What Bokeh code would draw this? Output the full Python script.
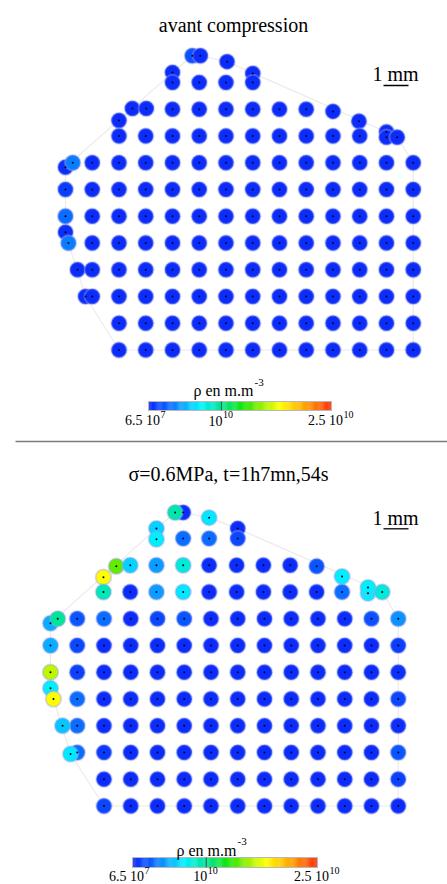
import numpy as np
from bokeh.plotting import figure
from bokeh.models import Range1d, ColumnDataSource
from bokeh.layouts import column
from bokeh.transform import linear_cmap
from bokeh.core.properties import value
from bokeh.embed import file_html
from bokeh.resources import INLINE

# ---------------- data ----------------
# densities in units of 10^10 m.m^-3
RHO_LOW, RHO_HIGH = 0.0065, 2.5
CBAR_TICKS = [0.0065, 1.0, 2.5]
CBAR_MAIN = ["6.5 10", "10", "2.5 10"]
CBAR_SUP = ["7", "10", "10"]
CBAR_TITLE = "ρ en m.m"
CBAR_TITLE_SUP = "-3"
TITLES = ["avant compression", "σ=0.6MPa, t=1h7mn,54s"]
SCALE_LABEL = "1 mm"
GRID_MM = 1.07  # grid step of the points, mm

# panel 1 : before compression  (column index, row index, density)
top_c = [4.74, 5.04, 6.04, 4.0, 7.0,
         4, 5, 6, 7,
         2.5, 3.02, 4, 5, 6, 7, 8, 9, 10,
         2.0, 10.97,
         2, 3, 4, 5, 6, 7, 8, 9, 10, 11, 12, 12, 12.4,
         0, 0.27, 1, 2, 3, 4, 5, 6, 7, 8, 9, 10, 11, 12, 13,
         0, 1, 2, 3, 4, 5, 6, 7, 8, 9, 10, 11, 12, 13,
         0, 1, 2, 3, 4, 5, 6, 7, 8, 9, 10, 11, 12, 13,
         0,
         0.11, 1, 2, 3, 4, 5, 6, 7, 8, 9, 10, 11, 12, 13,
         0.45, 1, 2, 3, 4, 5, 6, 7, 8, 9, 10, 11, 12, 13,
         0.75, 1, 2, 3, 4, 5, 6, 7, 8, 9, 10, 11, 12, 13,
         2, 3, 4, 5, 6, 7, 8, 9, 10, 11, 12, 13,
         2, 3, 4, 5, 6, 7, 8, 9, 10, 11, 12, 13]
top_r = [-1.0, -1.0, -0.78, -0.37, -0.34,
         0, 0, 0, 0,
         0.97, 0.97, 1, 1, 1, 1, 1, 1, 1.08,
         1.42, 1.45,
         2, 2, 2, 2, 2, 2, 2, 2, 2, 2, 1.85, 2.05, 2.05,
         3.17, 3, 3, 3, 3, 3, 3, 3, 3, 3, 3, 3, 3, 3, 3,
         4, 4, 4, 4, 4, 4, 4, 4, 4, 4, 4, 4, 4, 4,
         5, 5, 5, 5, 5, 5, 5, 5, 5, 5, 5, 5, 5, 5,
         5.6,
         6, 6, 6, 6, 6, 6, 6, 6, 6, 6, 6, 6, 6, 6,
         7, 7, 7, 7, 7, 7, 7, 7, 7, 7, 7, 7, 7, 7,
         8, 8, 8, 8, 8, 8, 8, 8, 8, 8, 8, 8, 8, 8,
         9, 9, 9, 9, 9, 9, 9, 9, 9, 9, 9, 9,
         10, 10, 10, 10, 10, 10, 10, 10, 10, 10, 10, 10]
top_rho = [0.2, 0.02, 0.02, 0.02, 0.02,
           0.02, 0.02, 0.02, 0.02,
           0.02, 0.02, 0.02, 0.02, 0.02, 0.02, 0.02, 0.02, 0.02,
           0.02, 0.02,
           0.02, 0.02, 0.02, 0.02, 0.02, 0.02, 0.02, 0.02, 0.02, 0.02, 0.02, 0.02, 0.02,
           0.02, 0.35, 0.02, 0.02, 0.02, 0.02, 0.02, 0.02, 0.02, 0.02, 0.02, 0.02, 0.02, 0.02, 0.02,
           0.1, 0.02, 0.02, 0.02, 0.02, 0.02, 0.02, 0.02, 0.02, 0.02, 0.02, 0.02, 0.02, 0.02,
           0.3, 0.02, 0.02, 0.02, 0.02, 0.02, 0.02, 0.02, 0.02, 0.02, 0.02, 0.02, 0.02, 0.02,
           0.02,
           0.35, 0.02, 0.02, 0.02, 0.02, 0.02, 0.02, 0.02, 0.02, 0.02, 0.02, 0.02, 0.02, 0.02,
           0.02, 0.02, 0.02, 0.02, 0.02, 0.02, 0.02, 0.02, 0.02, 0.02, 0.02, 0.02, 0.02, 0.02,
           0.02, 0.02, 0.02, 0.02, 0.02, 0.02, 0.02, 0.02, 0.02, 0.02, 0.02, 0.02, 0.02, 0.02,
           0.02, 0.02, 0.02, 0.02, 0.02, 0.02, 0.02, 0.02, 0.02, 0.02, 0.02, 0.02,
           0.02, 0.02, 0.02, 0.02, 0.02, 0.02, 0.02, 0.02, 0.02, 0.02, 0.02, 0.02]

# panel 2 : sigma = 0.6 MPa, t = 1h7mn54s
bot_c = [4.96, 4.66, 5.93, 3.96, 7.0,
         3.96, 4.96, 5.93, 7.0,
         2.46, 2.98, 3.96, 4.96, 5.93, 6.96, 7.96, 8.96, 9.95,
         1.98, 10.9,
         1.98, 2.98, 3.96, 4.96, 5.93, 6.96, 7.96, 8.96, 9.95, 10.9, 11.87, 11.87, 12.4,
         0, 0.27, 1, 2, 3, 4, 5, 6, 7, 8, 9, 10, 11, 12, 13,
         0, 1, 2, 3, 4, 5, 6, 7, 8, 9, 10, 11, 12, 13,
         0, 1, 2, 3, 4, 5, 6, 7, 8, 9, 10, 11, 12, 13,
         0,
         0.11, 1, 2, 3, 4, 5, 6, 7, 8, 9, 10, 11, 12, 13,
         1, 0.45, 2, 3, 4, 5, 6, 7, 8, 9, 10, 11, 12, 13,
         1, 0.75, 2, 3, 4, 5, 6, 7, 8, 9, 10, 11, 12, 13,
         2, 3, 4, 5, 6, 7, 8, 9, 10, 11, 12, 13,
         2, 3, 4, 5, 6, 7, 8, 9, 10, 11, 12, 13]
bot_r = [-0.97, -0.97, -0.78, -0.37, -0.37,
         0.03, 0, 0, 0,
         1.04, 1, 1, 1, 1, 1, 1, 1, 1.04,
         1.45, 1.42,
         2, 2, 2, 2, 2, 2, 2, 2, 2, 2, 2.05, 1.83, 2,
         3.17, 3, 3, 3, 3, 3, 3, 3, 3, 3, 3, 3, 3, 3, 3,
         4, 4, 4, 4, 4, 4, 4, 4, 4, 4, 4, 4, 4, 4,
         5, 5, 5, 5, 5, 5, 5, 5, 5, 5, 5, 5, 5, 5,
         5.6,
         6, 6, 6, 6, 6, 6, 6, 6, 6, 6, 6, 6, 6, 6,
         7, 7, 7, 7, 7, 7, 7, 7, 7, 7, 7, 7, 7, 7,
         8, 8.06, 8, 8, 8, 8, 8, 8, 8, 8, 8, 8, 8, 8,
         9, 9, 9, 9, 9, 9, 9, 9, 9, 9, 9, 9,
         10, 10, 10, 10, 10, 10, 10, 10, 10, 10, 10, 10]
bot_rho = [0.02, 0.95, 0.68, 0.62, 0.02,
           0.72, 0.3, 0.3, 0.15,
           1.45, 0.62, 0.45, 0.82, 0.02, 0.02, 0.02, 0.02, 0.22,
           1.8, 0.7,
           0.92, 0.02, 0.45, 0.68, 0.02, 0.02, 0.02, 0.02, 0.02, 0.3, 0.7, 0.72, 0.82,
           0.5, 1.0, 0.22, 0.3, 0.02, 0.15, 0.22, 0.02, 0.02, 0.02, 0.02, 0.02, 0.03, 0.2, 0.42,
           0.5, 0.15, 0.02, 0.02, 0.02, 0.02, 0.02, 0.02, 0.02, 0.02, 0.02, 0.02, 0.02, 0.1,
           1.65, 0.12, 0.02, 0.02, 0.02, 0.02, 0.02, 0.02, 0.02, 0.02, 0.02, 0.02, 0.02, 0.04,
           0.72,
           1.8, 0.3, 0.02, 0.02, 0.02, 0.02, 0.02, 0.02, 0.02, 0.02, 0.02, 0.02, 0.02, 0.15,
           0.3, 0.58, 0.02, 0.02, 0.02, 0.02, 0.02, 0.02, 0.02, 0.02, 0.02, 0.02, 0.02, 0.03,
           0.3, 0.68, 0.08, 0.02, 0.02, 0.02, 0.02, 0.02, 0.02, 0.02, 0.02, 0.02, 0.02, 0.22,
           0.02, 0.02, 0.02, 0.02, 0.02, 0.02, 0.02, 0.02, 0.02, 0.02, 0.02, 0.12,
           0.15, 0.02, 0.02, 0.02, 0.02, 0.02, 0.02, 0.02, 0.02, 0.02, 0.02, 0.02]

# ---------------- style ----------------
W = 447
PPM = 25.0  # screen px per mm
SERIF = value("Liberation Serif")

_stops = [(0.00, (12, 42, 250)), (0.10, (10, 95, 255)), (0.20, (10, 175, 255)),
          (0.28, (0, 240, 255)), (0.40, (0, 228, 150)), (0.52, (20, 230, 0)),
          (0.62, (150, 240, 0)), (0.72, (255, 255, 0)), (0.86, (255, 160, 0)),
          (1.00, (255, 50, 10))]


def _palette(n=256):
    fs = [s[0] for s in _stops]
    out = []
    for t in np.linspace(0, 1, n):
        rgb = [int(round(np.interp(t, fs, [s[1][k] for s in _stops]))) for k in range(3)]
        out.append("#%02x%02x%02x" % tuple(rgb))
    return out


PALETTE = _palette()


def _hull(pts):
    pts = sorted(set(pts))
    def cross(o, a, b):
        return (a[0] - o[0]) * (b[1] - o[1]) - (a[1] - o[1]) * (b[0] - o[0])
    lower, upper = [], []
    for p in pts:
        while len(lower) >= 2 and cross(lower[-2], lower[-1], p) <= 0:
            lower.pop()
        lower.append(p)
    for p in reversed(pts):
        while len(upper) >= 2 and cross(upper[-2], upper[-1], p) <= 0:
            upper.pop()
        upper.append(p)
    h = lower[:-1] + upper[:-1]
    return h + [h[0]]


def make_panel(cs, rs, rhos, title, H, ox, oy, title_pos, scale_pos, bar_y,
               bar, cb_title_pos, label_y, separator=False):
    p = figure(width=W, height=H, output_backend="svg", toolbar_location=None,
               x_range=Range1d(-ox / PPM, (W - ox) / PPM),
               y_range=Range1d((H - oy) / PPM, -oy / PPM),
               x_axis_location=None, y_axis_location=None,
               min_border=0, outline_line_color=None,
               background_fill_color="white", border_fill_color="white")
    p.grid.visible = False

    def D(fx, fy):
        return (fx - ox) / PPM, (fy - oy) / PPM

    xs = [c * GRID_MM for c in cs]
    ys = [r * GRID_MM for r in rs]
    src = ColumnDataSource(dict(x=xs, y=ys, rho=rhos))

    h = _hull(list(zip(xs, ys)))
    p.line([q[0] for q in h], [q[1] for q in h], line_color="#ebebeb", line_width=1.2)

    p.scatter("x", "y", source=src, size=15.5,
              fill_color=linear_cmap("rho", PALETTE, RHO_LOW, RHO_HIGH),
              line_color="#9aa2ee", line_alpha=0.4, line_width=2)
    p.scatter("x", "y", source=src, size=2, fill_color="#00002a", line_color=None)

    if separator:
        x0, y0 = D(15, 0.9)
        x1, _ = D(W, 0.9)
        p.segment([x0], [y0], [x1], [y0], line_color="#7a7a7a", line_width=1.8)

    # title
    tx, ty = D(*title_pos)
    p.text([tx], [ty], text=[title], text_font=SERIF, text_font_size="20px",
           text_align="center", text_baseline="alphabetic", text_color="black")
    # scale bar
    sx, sy = D(*scale_pos)
    p.text([sx], [sy], text=[SCALE_LABEL], text_font=SERIF, text_font_size="20px",
           text_align="left", text_baseline="alphabetic", text_color="black")
    bx, by = D(*bar_y)
    p.segment([bx], [by], [bx + 1.0], [by], line_color="black", line_width=1.3)

    # colour bar
    bx0, by0, bw, bh = bar
    n = 200
    vals = np.linspace(RHO_LOW, RHO_HIGH, n)
    cx = [D(bx0 + (i + 0.5) * bw / n, 0)[0] for i in range(n)]
    cy = D(0, by0 + bh / 2)[1]
    p.rect(x=cx, y=[cy] * n, width=bw / n / PPM * 1.3, height=bh / PPM,
           fill_color=[PALETTE[int(round((v - RHO_LOW) / (RHO_HIGH - RHO_LOW) * 255))] for v in vals],
           line_color=None)
    ccx = D(bx0 + bw / 2, 0)[0]
    p.rect(x=[ccx], y=[cy], width=bw / PPM, height=bh / PPM, fill_color=None,
           line_color="#b8b8b8", line_width=1)
    tfrac = (CBAR_TICKS[1] - RHO_LOW) / (RHO_HIGH - RHO_LOW)
    tkx = D(bx0 + tfrac * bw, 0)[0]
    p.segment([tkx], [D(0, by0)[1]], [tkx], [D(0, by0 + bh)[1]], line_color="#1d5a3a", line_width=1)

    # colour bar title
    ctx, cty = D(*cb_title_pos)
    p.text([ctx], [cty], text=[CBAR_TITLE], text_font=SERIF, text_font_size="16px",
           text_align="left", text_baseline="alphabetic", text_color="black")
    sx2, sy2 = D(cb_title_pos[0] + 61, cb_title_pos[1] - 8.5)
    p.text([sx2], [sy2], text=[CBAR_TITLE_SUP], text_font=SERIF, text_font_size="11px",
           text_align="left", text_baseline="alphabetic", text_color="black")

    # colour bar labels
    shifts = [11.5, 1.0, 11.5]
    for t, m, s, sh in zip(CBAR_TICKS, CBAR_MAIN, CBAR_SUP, shifts):
        frac = (t - RHO_LOW) / (RHO_HIGH - RHO_LOW)
        split = bx0 + frac * bw + sh
        mx, my = D(split, label_y)
        p.text([mx], [my], text=[m], text_font=SERIF, text_font_size="14px",
               text_align="right", text_baseline="alphabetic", text_color="black")
        ux, uy = D(split + 0.5, label_y - 6)
        p.text([ux], [uy], text=[s], text_font=SERIF, text_font_size="10px",
               text_align="left", text_baseline="alphabetic", text_color="black")
    return p


p1 = make_panel(top_c, top_r, top_rho, TITLES[0], H=440, ox=65, oy=82,
                title_pos=(233, 24.5), scale_pos=(372, 73.5), bar_y=(383, 85),
                bar=(148, 401, 183, 9), cb_title_pos=(193, 390), label_y=420)
p2 = make_panel(bot_c, bot_r, bot_rho, TITLES[1], H=444, ox=50, oy=98,
                title_pos=(228, 33), scale_pos=(372, 77), bar_y=(383, 88.3),
                bar=(132, 417, 185, 10), cb_title_pos=(176, 409.5), label_y=435.5,
                separator=True)

layout = column(p1, p2, spacing=0)
open("out.html", "w").write(file_html(layout, INLINE))
